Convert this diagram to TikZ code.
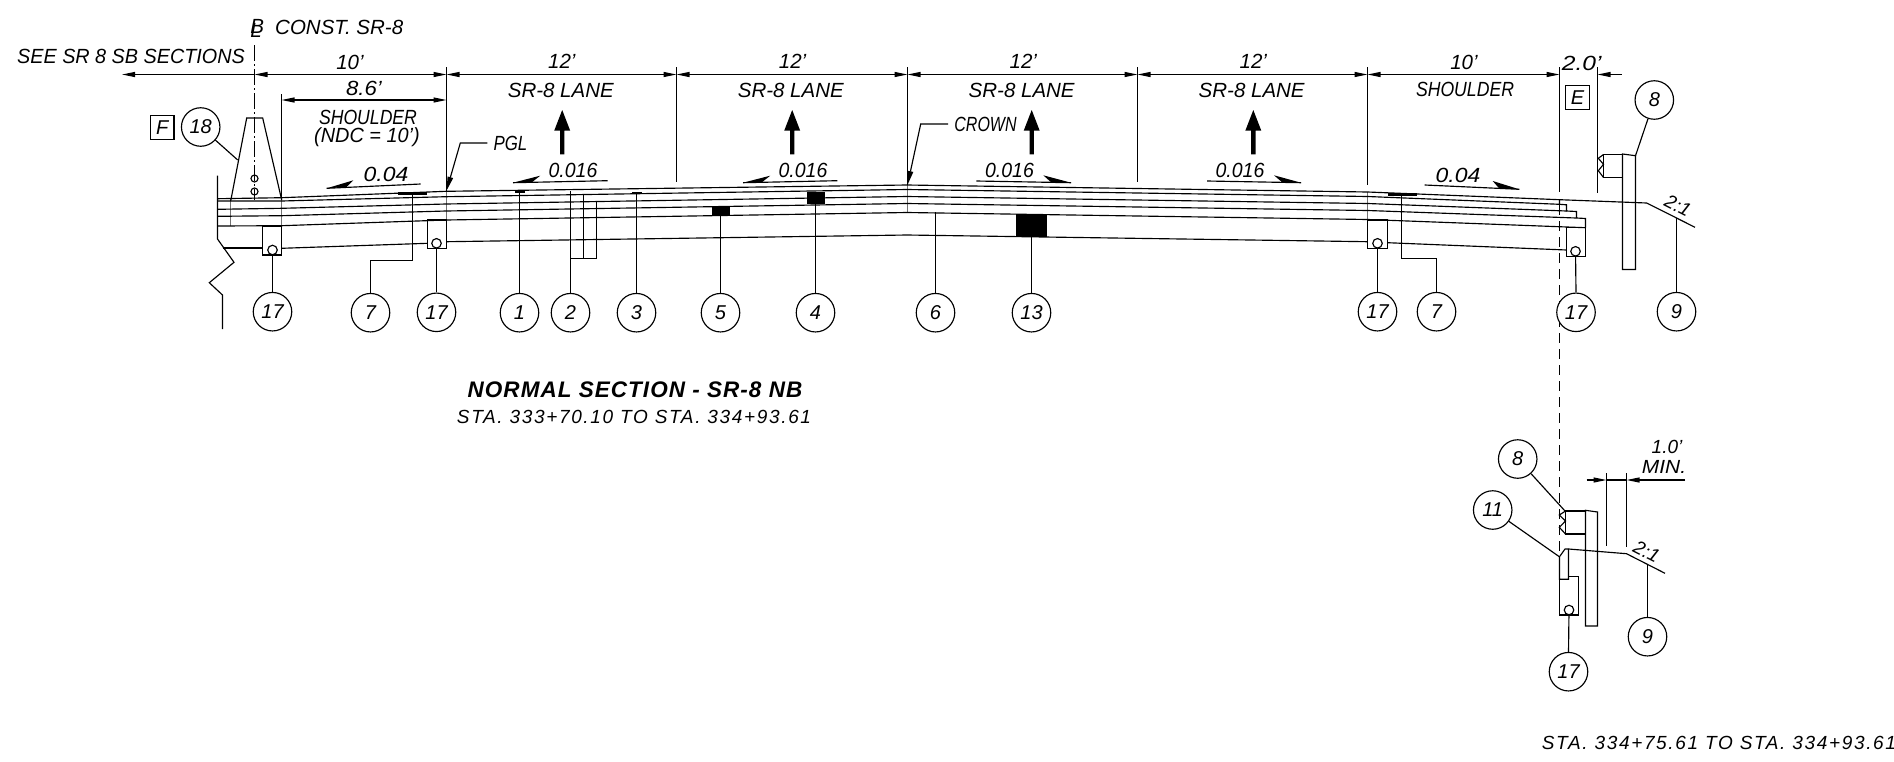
\documentclass[tikz,border=0pt]{standalone}
\usepackage{graphicx}
\usepackage{fontspec}
\setmainfont{Liberation Sans}
\usetikzlibrary{arrows.meta}
\newcommand{\cadsz}[1]{\fontsize{#1}{#1}\selectfont\itshape}
\newcommand{\hs}[2]{\scalebox{#1}[1]{#2}}
\tikzset{
  x=1pt,y=-1pt,
  ln/.style={line width=1.15pt,line join=miter,black},
  thin line/.style={line width=.6pt,black!55},
  dim/.style={ln,{Triangle[length=13pt,width=5pt,sep=0pt]}-{Triangle[length=13pt,width=5pt,sep=0pt]}},
  dimr/.style={ln,-{Triangle[length=13pt,width=5pt,sep=0pt]}},
  lead/.style={ln,-{Triangle[length=14pt,width=5.5pt,sep=0pt]}},
  bub/.style={circle,draw,fill=white,line width=1.15pt,minimum size=38.5pt,inner sep=0pt,font=\cadsz{20}},
  boxed/.style={rectangle,draw,line width=1.15pt,minimum size=23.5pt,inner sep=0pt,font=\cadsz{20}},
  txt/.style={inner sep=0pt,font=\cadsz{20.5}},
  small/.style={inner sep=0pt,font=\cadsz{19}},
  stext/.style={inner sep=0pt,font=\cadsz{19}\addfontfeature{LetterSpace=8.7}},
  title/.style={inner sep=0pt,font=\bfseries\cadsz{22.5}\addfontfeature{LetterSpace=4.6}},
  wedge/.style={fill=black,draw=none},
  up/.style={fill=black,draw=none},
  solid block/.style={fill=black,draw=none},
  clpat/.style={ln,dash pattern=on 16pt off 3pt on 2pt off 3pt},
  dashpat/.style={ln,dash pattern=on 10pt off 6pt},
  drain/.style={circle,draw,fill=white,line width=1.15pt,minimum size=9.5pt,inner sep=0pt},
}
\newcommand{\uparr}[1]{\fill[up] (#1-2.2,154.3) -- (#1-2.2,130.7) -- (#1-8,130.7) -- (#1,110) -- (#1+8,130.7) -- (#1+2.2,130.7) -- (#1+2.2,154.3) -- cycle;}
\begin{document}
\begin{tikzpicture}
\useasboundingbox (0,0) rectangle (1894,761);
% top text
\node[txt] (cl) at (256,28) {\rlap{\raisebox{4pt}{B}}L};
\node[txt,anchor=west] (cs) at (275,27) {CONST. SR-8};
\node[txt,anchor=west] (see) at (17,56) {\hs{.965}{SEE SR 8 SB SECTIONS}};
% centre line
\draw[clpat] (254.5,45) -- (254.5,200);
% dimension line
\draw[dimr] (254.5,74.5) -- (122,74.5);
\draw[dim] (254.5,74.5) -- (446.5,74.5);
\draw[dim] (446.5,74.5) -- (676.5,74.5);
\draw[dim] (676.5,74.5) -- (907.5,74.5);
\draw[dim] (907.5,74.5) -- (1137.5,74.5);
\draw[dim] (1137.5,74.5) -- (1367.5,74.5);
\draw[dim] (1367.5,74.5) -- (1559.5,74.5);
\draw[dimr] (1621.7,74.5) -- (1597.5,74.5);
\draw[dim] (281.5,100) -- (446.5,100);
% extension lines
\draw[ln] (446.5,67) -- (446.5,191);
\draw[ln] (676.5,67) -- (676.5,181.5);
\draw[ln] (907.5,67) -- (907.5,185);
\draw[ln] (1137.5,67) -- (1137.5,181.5);
\draw[ln] (1367.5,67) -- (1367.5,185);
\draw[ln] (1559.5,67) -- (1559.5,192);
\draw[ln] (1597.5,67) -- (1597.5,193);
\draw[ln] (281.5,94) -- (281.5,197.7);
% dim texts
\node[txt] at (350,62) {10'};
\node[txt] at (364,88) {\hs{1.08}{8.6'}};
\node[txt] at (368,117) {\hs{.86}{SHOULDER}};
\node[txt] at (367,137) {\hs{.97}{(NDC = 10')}};
\foreach \tx/\lx in {561.8/560.8,792.6/790.8,1023.3/1021.7,1253.3/1251.7}{
  \node[txt] at (\tx,61) {12'};
  \node[txt] at (\lx,90) {SR-8 LANE};
}
\node[txt] at (1464,62.3) {10'};
\node[txt] at (1465,89.3) {\hs{.86}{SHOULDER}};
\node[txt] at (1581.7,63) {\hs{1.2}{2.0'}};
\node[boxed] (bE) at (1577.5,97.5) {E};
\node[boxed] (bF) at (162.3,127.5) {F};
% up arrows
\uparr{562.2}\uparr{792.2}\uparr{1031.7}\uparr{1253.3}
% slope marks
\node[txt] at (386,174) {\hs{1.12}{0.04}};
\draw[ln] (326.7,188.3) -- (420.7,184);
\fill[wedge] (326.7,188.3) -- (353.3,180.3) -- (346.7,187);
\node[txt] at (573,170) {\hs{.95}{0.016}};
\draw[ln] (513,182.7) -- (607.6,180.7);
\fill[wedge] (513,182.7) -- (540.2,175.7) -- (532,182.2);
\node[txt] at (803,170) {\hs{.95}{0.016}};
\draw[ln] (743,182.7) -- (837.3,180.7);
\fill[wedge] (743,182.7) -- (770.2,175.7) -- (762,182.2);
\node[txt] at (1009.5,170) {\hs{.95}{0.016}};
\draw[ln] (976.3,181) -- (1071,182.7);
\fill[wedge] (1071,182.7) -- (1043.3,175.3) -- (1051,182.2);
\node[txt] at (1240,170) {\hs{.95}{0.016}};
\draw[ln] (1207,181) -- (1301,182.7);
\fill[wedge] (1301,182.7) -- (1274,175.3) -- (1282,182.2);
\node[txt] at (1458,175) {\hs{1.12}{0.04}};
\draw[ln] (1424.7,185) -- (1519.3,189.3);
\fill[wedge] (1519.3,189.3) -- (1492.7,181) -- (1499,188.2);
% leaders
\node[txt] (pgl) at (510.5,143) {\hs{.82}{PGL}};
\draw[lead] (pgl.west) ++(-6,0) -- (460.3,143) -- (446.5,190.7);
\node[txt] (crown) at (985.5,124) {\hs{.78}{CROWN}};
\draw[lead] (crown.west) ++(-6,0) -- (920.7,124) -- (907.5,185);
% joints
\foreach \x/\a/\b in {230.5/199/226,281.5/198/226,446.5/191/220,907.5/185/212.5,1367.5/192/219.5}
  \draw[thin line] (\x,\a) -- (\x,\b);
% pavement layers
\draw[ln] (217.5,198.7) -- (281.7,197.7) -- (446,191.3) -- (907,185) -- (1367.7,192) -- (1559.7,199.7) -- (1646.7,203) -- (1695,227.3);
\draw[ln] (217.5,201) -- (281.7,201) -- (446,196.7) -- (907,189.5) -- (1367.7,196.5) -- (1559.7,204.3);
\draw[ln] (217.5,209.3) -- (281.7,208.3) -- (446,204) -- (907,196.5) -- (1367.7,203.5) -- (1566.5,211);
\draw[ln] (217.5,216.3) -- (281.7,215.7) -- (446,211) -- (907,203.5) -- (1367.7,210.5) -- (1576,218);
\draw[ln] (217.5,226) -- (281.7,225.7) -- (446,220) -- (907,212.5) -- (1367.7,219.5) -- (1585.5,227.7);
\draw[ln] (1559.5,199.7) -- (1559.5,204.3) -- (1566.5,204.8) -- (1566.5,211) -- (1576.5,211.5) -- (1576.5,218) -- (1585.5,218.5) -- (1585.5,227.7);
% subgrade
\draw[ln] (222.5,248) -- (262.5,248);
\draw[ln] (281.5,248.3) -- (427.5,243.3);
\draw[ln] (446.5,241.7) -- (907,235) -- (1367.5,241.7);
\draw[ln] (1387.5,242.7) -- (1566.5,250);
% broken edge
\draw[ln] (217.5,175.7) -- (217.5,239) -- (234,262.3) -- (209.3,282.7) -- (222.5,295) -- (222.5,329);
% barrier
\draw[ln] (230.7,201) -- (246.7,118) -- (262.7,118) -- (281.7,200);
\draw[ln] (254.5,178.5) circle (3.5);
\draw[ln] (254.5,191.5) circle (3.5);
% curb boxes
\draw[ln] (262.5,226) rectangle (281.5,255);
\draw[ln] (427.5,220) rectangle (446.5,248.5);
\draw[ln] (1367.5,220) rectangle (1387.5,248.5);
\draw[ln] (1566.5,227.7) rectangle (1585.5,256.5);
\node[drain] (d1) at (272.5,250) {};
\node[drain] (d2) at (436.5,243.3) {};
\node[drain] (d3) at (1377.5,243.3) {};
\node[drain] (d4) at (1575.5,251.3) {};
% solid blocks and strips
\fill[solid block] (711.6,205.7) rectangle (729.9,215);
\fill[solid block] (807,191.7) rectangle (825,204);
\fill[solid block] (1016.3,214) rectangle (1046.7,236.7);
\fill[solid block] (398.3,192.3) rectangle (427.3,194.5);
\fill[solid block] (515,191) rectangle (524.7,193.3);
\fill[solid block] (632.4,191.7) rectangle (641.7,194);
\fill[solid block] (1388.3,193) rectangle (1416.7,195.5);
% dashed line
\draw[dashpat] (1559.5,205) -- (1559.5,553);
% barrier sign and block, main section
\draw[ln] (1622.5,154) -- (1635.5,155.7) -- (1635.5,269.5) -- (1622.5,269.5) -- cycle;
\draw[ln] (1622.5,154.5) -- (1603.5,154.5) -- (1603.5,177.5) -- (1622.5,177.5);
\draw[ln] (1603.5,154.5) -- (1598.3,158.3) -- (1603.5,164.3) -- (1598.3,170.7) -- (1603.5,177.5);
\node[small,rotate=-27] at (1678,205.7) {2:1};
% bubbles main section
\node[bub] (b18) at (200.7,127) {18};
\node[bub] (a17) at (272.5,311.7) {17};
\node[bub] (a7)  at (370.5,312.7) {7};
\node[bub] (b17) at (436.5,312.3) {17};
\node[bub] (b1)  at (519.5,312.7) {1};
\node[bub] (b2)  at (570.5,312.7) {2};
\node[bub] (b3)  at (636.5,312.7) {3};
\node[bub] (b5)  at (720.5,312.7) {5};
\node[bub] (b4)  at (815.5,312.7) {4};
\node[bub] (b6)  at (935.5,312.7) {6};
\node[bub] (b13) at (1031.5,312.7) {13};
\node[bub] (c17) at (1377.5,311.7) {17};
\node[bub] (c7)  at (1436.5,311.7) {7};
\node[bub] (d17) at (1576,312.3) {17};
\node[bub] (b9)  at (1676.5,311.7) {9};
\node[bub] (b8)  at (1654.3,100) {8};
\coordinate (t18) at (237.7,160);
\draw[ln] (b18) -- (t18);
\draw[ln] (a17) -- (d1);
\draw[ln] (b17) -- (d2);
\draw[ln] (c17) -- (d3);
\draw[ln] (d17.north) -- (d4);
\draw[ln] (a7.north) -- (370.5,260.5) -- (412.5,260.5) -- (412.5,194);
\draw[ln] (b1.north) -- (519.5,192);
\draw[ln] (b2.north) -- (570.5,190.7);
\draw[ln] (570.5,258.5) -- (596.5,258.5) -- (596.5,200.7);
\draw[ln] (583.5,258.5) -- (583.5,194.3);
\draw[ln] (b3.north) -- (636.5,193);
\draw[ln] (b5.north) -- (720.5,215);
\draw[ln] (b4.north) -- (815.5,204);
\draw[ln] (b6.north) -- (935.5,211.7);
\draw[ln] (b13.north) -- (1031.5,236.7);
\draw[ln] (c7.north) -- (1436.5,258.5) -- (1401.5,258.5) -- (1401.5,195);
\draw[ln] (b9.north) -- (1676.5,218.3);
\draw[ln] (b8) -- (1635.5,155.7);
% titles
\node[title] at (635,390) {NORMAL SECTION - SR-8 NB};
\node[stext] at (634,417.3) {STA. 333+70.10 TO STA. 334+93.61};
% detail
\draw[ln] (1585.5,510.3) -- (1597.5,512) -- (1597.5,626) -- (1585.5,626) -- cycle;
\draw[ln] (1585.5,511) -- (1565.5,511) -- (1565.5,534) -- (1585.5,534);
\draw[ln] (1565.5,511) -- (1559.3,515) -- (1565.5,521) -- (1559.3,527.3) -- (1565.5,534);
\draw[ln] (1606.5,480) -- (1626.5,480);
\draw[dimr] (1586.7,480) -- (1606.5,480);
\draw[dimr] (1685,480) -- (1626.5,480);
\draw[ln] (1606.5,473.3) -- (1606.5,546);
\draw[ln] (1626.5,473.3) -- (1626.5,547.3);
\node[small] at (1667,447.3) {1.0'};
\node[small] at (1664,467.3) {\hs{1.1}{MIN.}};
\draw[ln] (1559.5,579.3) -- (1559.5,556.7) -- (1565,549) -- (1568.5,549) -- (1568.5,579.3) -- cycle;
\draw[ln] (1568.5,549) -- (1626.5,553.7) -- (1665,573.3);
\draw[ln] (1568.5,576.5) -- (1578.5,576.5) -- (1578.5,615) -- (1559.5,615) -- (1559.5,579.3);
\node[drain] (d5) at (1569,610) {};
\node[small,rotate=-27] at (1646.7,551.7) {2:1};
\node[bub] (e8)  at (1517.7,459) {8};
\node[bub] (e11) at (1492.7,510) {11};
\node[bub] (e17) at (1568.5,671.7) {17};
\node[bub] (e9)  at (1647.5,636.7) {9};
\draw[ln] (e8) -- (1565,511);
\draw[ln] (e11) -- (1559.3,556.7);
\draw[ln] (e17.north) -- (d5);
\draw[ln] (e9.north) -- (1647.5,564);
\node[stext,anchor=west] at (1541.7,742.7) {STA. 334+75.61 TO STA. 334+93.61};
\end{tikzpicture}
\end{document}
